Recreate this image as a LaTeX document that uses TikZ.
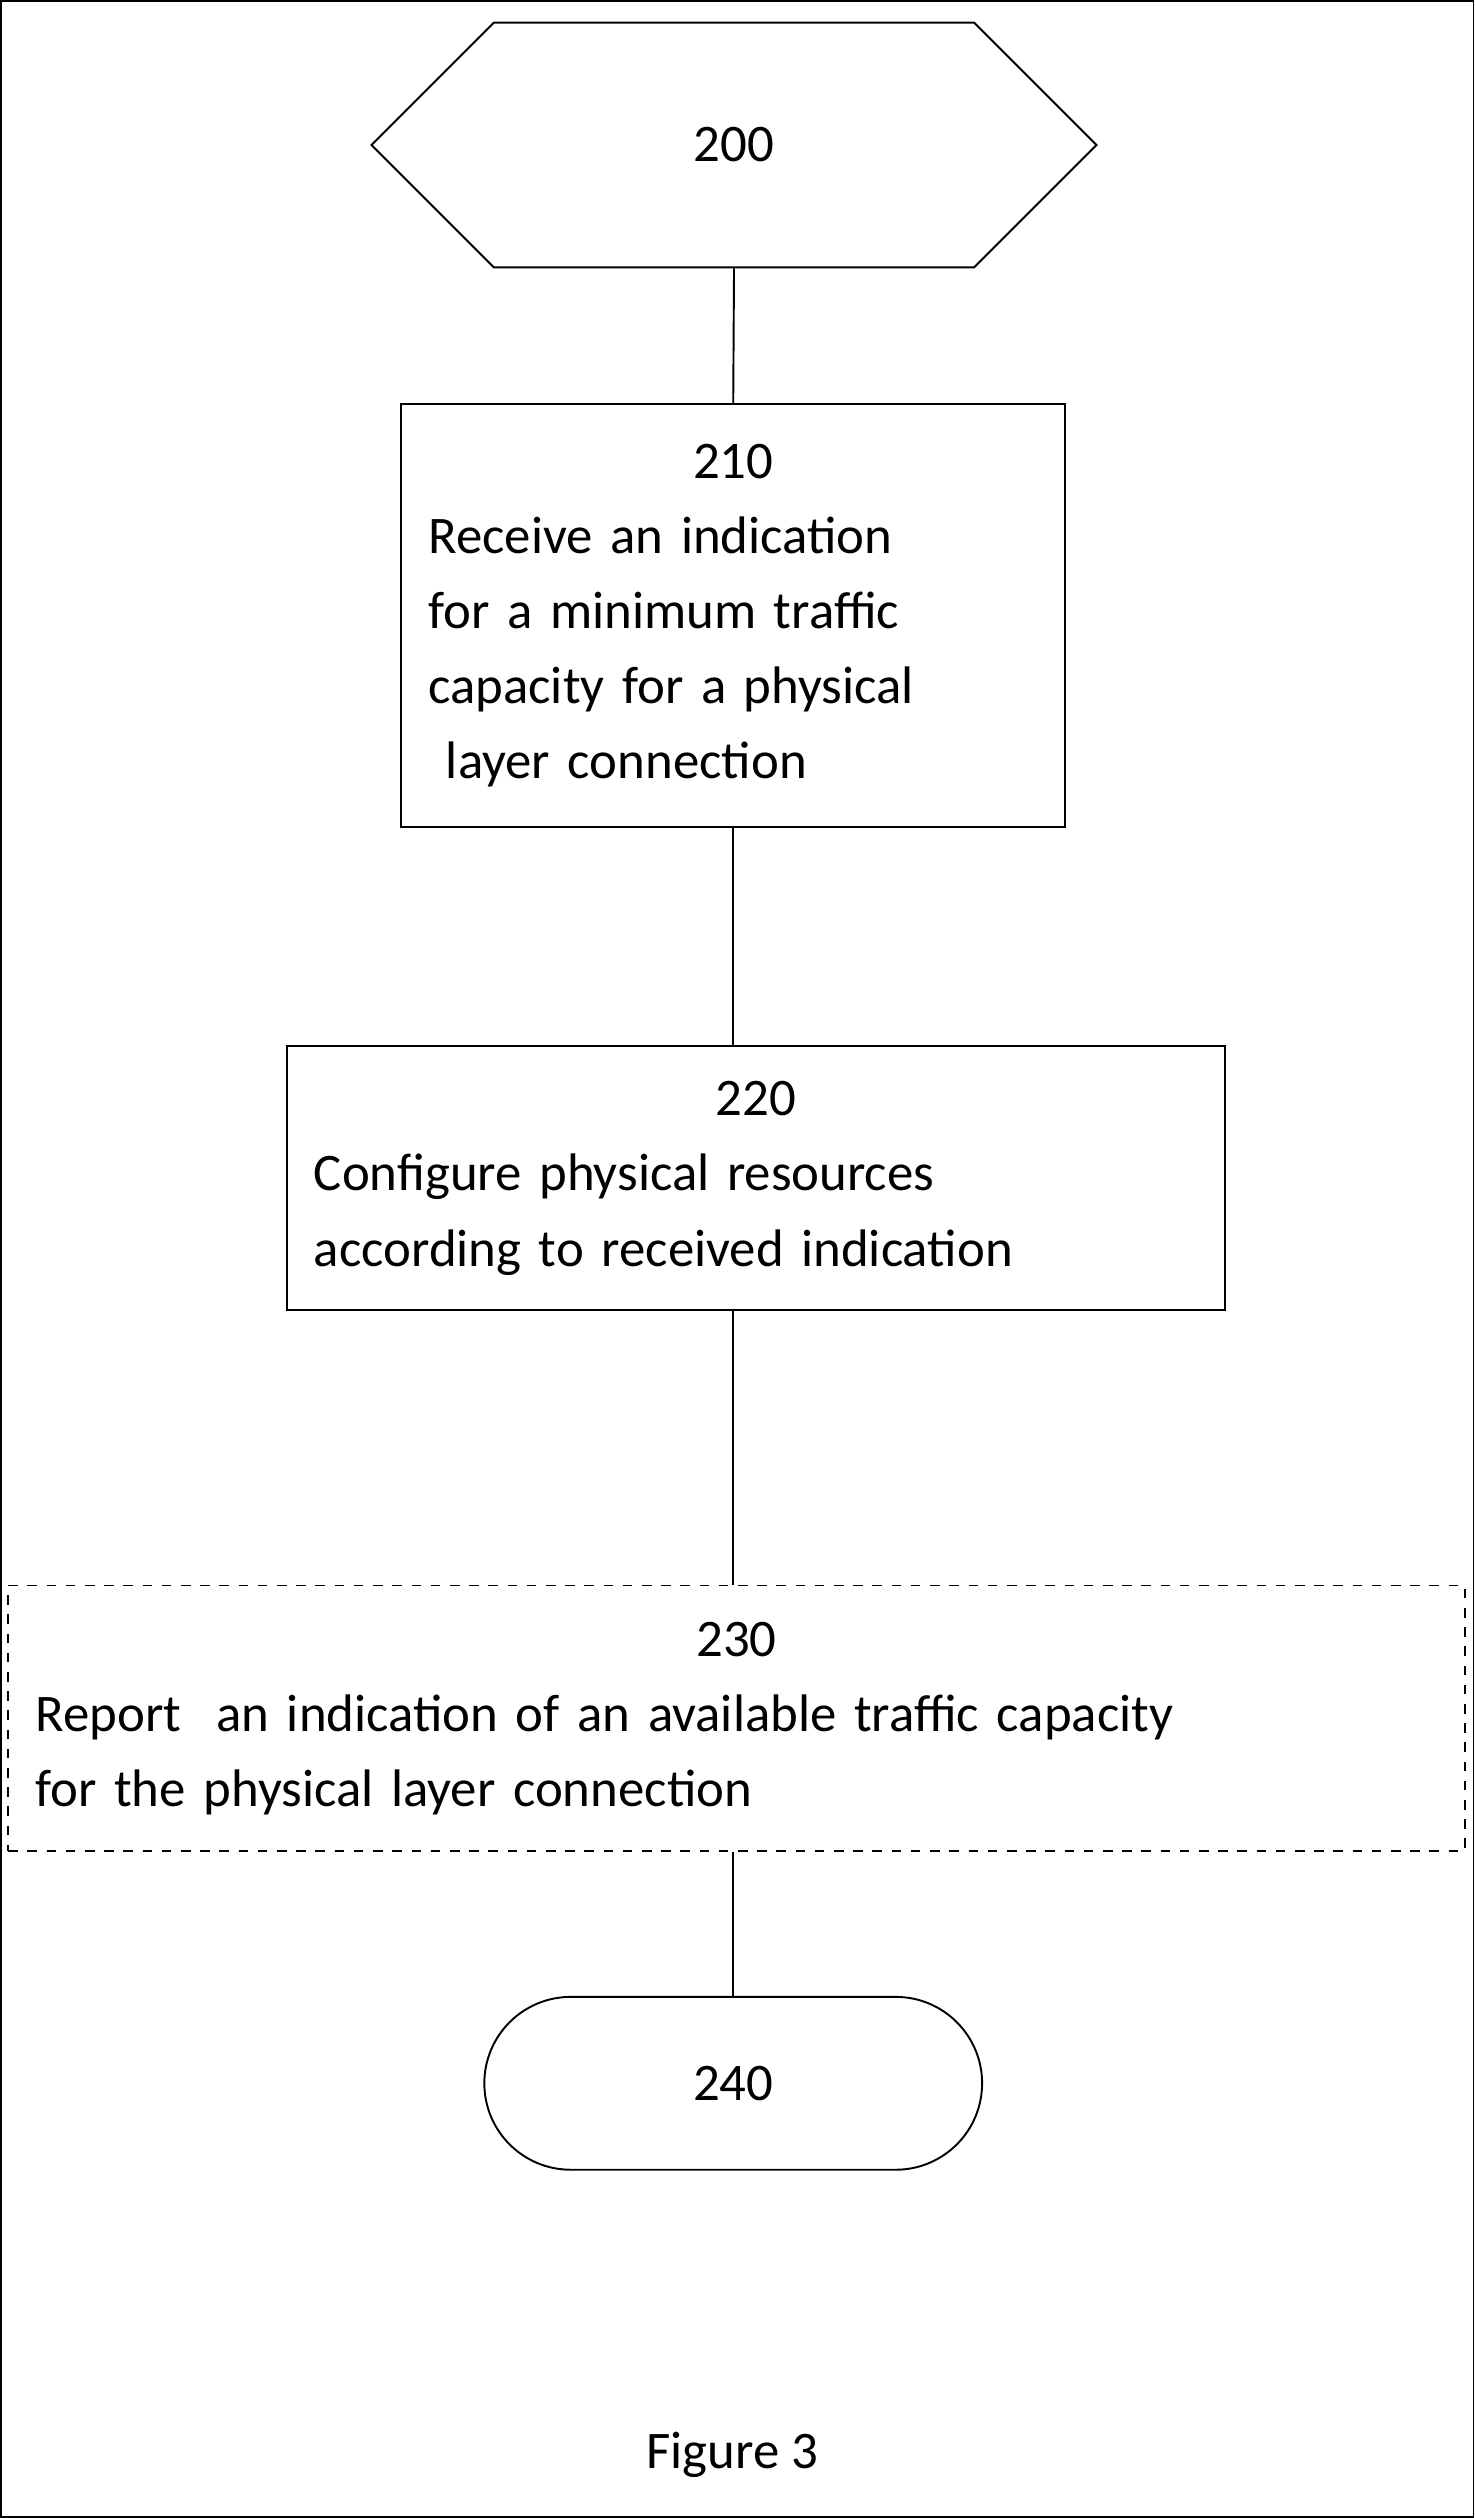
\documentclass[tikz,border=0pt]{standalone}
\usepackage{fontspec}
\setmainfont{Carlito}
\usetikzlibrary{positioning}
\usetikzlibrary{shapes.symbols}
\tikzset{
  every node/.append style={font=\fontsize{16.5}{23.5}\selectfont},
  every path/.append style={draw=black, line width=0.6pt},
  procbox/.style={rectangle, draw, inner xsep=8.5pt, align=left},
  terminal/.style={rectangle, draw, rounded corners=27pt, minimum width=155.5pt, minimum height=54pt}
}
\begin{document}
\begin{tikzpicture}[x=0.5pt, y=-0.5pt]
  \useasboundingbox (0,0) rectangle (920,1572);

  % start
  \node[signal, signal to=west and east, signal pointer angle=90, draw,
        minimum width=226.5pt, minimum height=76.5pt, inner sep=0pt] (start) at (458,90) {200};

  % steps
  \node[procbox, text width=190.5pt, minimum height=132pt] (receive) at (457.5,384)
    {\hfill 210\hfill\null\\Receive an indication\\for a minimum traffic\\capacity for a physical\\ \ layer connection};
  \node[procbox, text width=276pt, minimum height=82.5pt] (configure) at (471.5,735.5)
    {\hfill 220\hfill\null\\Configure physical resources\\according to received indication};
  \node[procbox, dashed, text width=438pt, minimum height=83pt] (report) at (459.5,1073)
    {\hfill 230\hfill\null\\Report \ an indication of an available traffic capacity\\for the physical layer connection};

  % end
  \node[terminal] (stop) at (457.5,1301) {240};

  \draw (start.south) -- (receive.north);
  \draw (receive.south) -- (receive.south |- configure.north);
  \draw (receive.south |- configure.south) -- (receive.south |- report.north);
  \draw (receive.south |- report.south) -- (stop.north);

  \node (caption) at (457,1533) {Figure 3};
\end{tikzpicture}
\end{document}
